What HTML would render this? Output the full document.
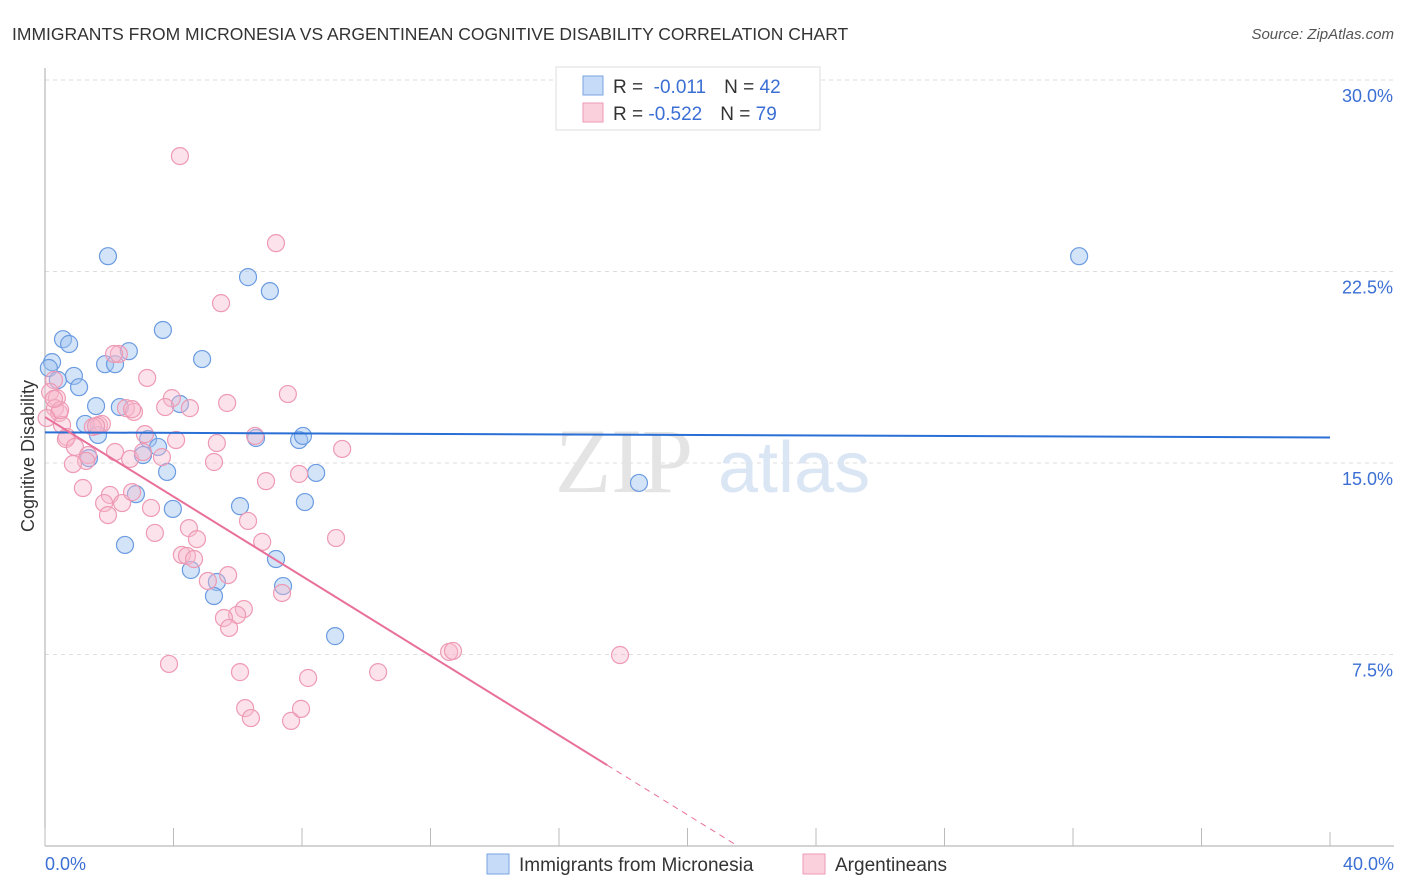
<!DOCTYPE html>
<html><head><meta charset="utf-8"><style>
body{margin:0;background:#fff;font-family:"Liberation Sans",sans-serif;}
svg{display:block}
</style></head><body>
<svg id="chart" width="1406" height="892">
<text x="12" y="40" font-size="17.5" fill="#333">IMMIGRANTS FROM MICRONESIA VS ARGENTINEAN COGNITIVE DISABILITY CORRELATION CHART</text>
<text x="1394" y="39" font-size="15" fill="#555" font-style="italic" text-anchor="end">Source: ZipAtlas.com</text>
<g id="grid"></g>
<g id="axes"></g>
<text x="555" y="492" font-size="92" fill="#e4e4e4" font-family="Liberation Serif,serif">ZIP</text>
<text x="718" y="492" font-size="72" fill="#dbe6f5">atlas</text>
<g id="pts"></g>
<g id="lines"></g>
<text transform="translate(34,456) rotate(-90)" font-size="18" fill="#333" text-anchor="middle">Cognitive Disability</text>
<text x="45" y="870" font-size="18" fill="#3b6fd4">0.0%</text>
<text x="1394" y="870" font-size="18" fill="#3b6fd4" text-anchor="end">40.0%</text>
<g>
<rect x="556" y="67" width="264" height="63" fill="#fff" stroke="#ddd"/>
<rect x="583" y="76" width="20" height="19" fill="#c5dbf7" stroke="#7aa3e0"/>
<rect x="583" y="103" width="20" height="19" fill="#fbd0dd" stroke="#ee9ab4"/>
<text x="613" y="93" font-size="19" fill="#333">R = <tspan fill="#3b6fd4">&#160;-0.011</tspan><tspan dx="18">N = </tspan><tspan fill="#3b6fd4">42</tspan></text>
<text x="613" y="120" font-size="19" fill="#333">R = <tspan fill="#3b6fd4">-0.522</tspan><tspan dx="18">N = </tspan><tspan fill="#3b6fd4">79</tspan></text>
</g>
<g>
<rect x="487" y="854" width="22" height="20" fill="#c5dbf7" stroke="#7aa3e0"/>
<text x="519" y="871" font-size="19" fill="#333">Immigrants from Micronesia</text>
<rect x="803" y="854" width="22" height="20" fill="#fbd0dd" stroke="#ee9ab4"/>
<text x="835" y="871" font-size="19" fill="#333">Argentineans</text>
</g>
</svg>
<script>
const blueX=[1.96,6.32,7.00,32.19,0.56,0.75,3.67,0.22,0.12,1.87,2.18,2.61,4.89,0.90,1.06,0.40,1.59,2.33,4.20,1.25,1.65,3.21,3.52,3.05,1.37,3.80,6.57,7.91,8.03,8.44,18.49,2.83,8.09,6.07,3.98,2.49,7.19,4.54,5.35,7.41,5.26,9.03];
const blueY=[23.10,22.28,21.73,23.10,19.85,19.66,20.21,18.95,18.72,18.87,18.87,19.38,19.07,18.41,17.97,18.25,17.23,17.19,17.31,16.53,16.10,15.94,15.63,15.31,15.19,14.65,15.98,15.90,16.06,14.61,14.22,13.78,13.47,13.31,13.20,11.79,11.24,10.81,10.34,10.18,9.79,8.22];
const pinkX=[4.20,7.19,5.48,2.30,3.18,7.56,5.67,3.95,4.51,3.74,2.52,2.77,0.28,0.16,0.37,0.31,0.44,0.53,0.68,0.65,1.68,1.77,1.49,3.11,4.08,5.35,6.54,9.25,0.93,1.34,1.28,0.87,2.18,2.65,3.64,5.26,7.91,6.88,1.18,2.02,1.84,2.40,1.96,3.30,3.42,4.48,4.73,6.32,6.76,9.06,4.26,4.42,4.64,5.07,5.70,6.19,5.98,7.38,5.57,5.73,3.86,6.07,8.19,10.37,12.58,12.70,17.90,6.23,6.41,7.66,7.97,2.71,2.15,2.71,0.47,1.59,3.05,0.28,0.05];
const pinkY=[27.02,23.61,21.26,19.27,18.33,17.70,17.35,17.54,17.15,17.19,17.15,17.00,18.25,17.78,17.54,17.15,16.96,16.49,16.02,15.94,16.49,16.53,16.41,16.13,15.90,15.78,16.06,15.55,15.63,15.31,15.08,14.96,15.43,15.16,15.23,15.04,14.57,14.29,14.02,13.75,13.43,13.43,12.96,13.24,12.26,12.45,12.02,12.73,11.91,12.06,11.40,11.36,11.24,10.38,10.61,9.28,9.05,9.91,8.93,8.54,7.13,6.81,6.58,6.81,7.60,7.64,7.48,5.40,5.01,4.90,5.37,13.86,19.27,17.11,17.07,16.45,15.43,17.51,16.76];
const yTicks=[7.5,15,22.5,30];
const yTickLabels=["7.5%","15.0%","22.5%","30.0%"];
const xTicks=[0,4,8,12,16,20,24,28,32,36,40];
const blueTrend=[16.2,16.0];
const pinkTrend=[16.8,-0.779];
const pinkSolidEnd=17.5;
const NS="http://www.w3.org/2000/svg";
const sx=v=>45+v/40*1285, sy=v=>846-v/30*766;
function mk(tag,attrs,parent){const e=document.createElementNS(NS,tag);for(const k in attrs)e.setAttribute(k,attrs[k]);parent.appendChild(e);return e;}
const grid=document.getElementById('grid'),axes=document.getElementById('axes'),pts=document.getElementById('pts'),lines=document.getElementById('lines');
yTicks.forEach((t,i)=>{
 const l=mk('line',{x1:45,x2:1394,y1:sy(t),y2:sy(t),stroke:'#ddd','stroke-dasharray':'4,4'},grid);
 
 
 const tx=mk('text',{x:1393,y:sy(t)+22,'font-size':18,fill:'#3b6fd4','text-anchor':'end'},grid);
 tx.textContent=yTickLabels[i];
 
 
});
let a=mk('line',{x1:45,x2:45,y1:68,y2:846,stroke:'#aaa'},axes);


a=mk('line',{x1:45,x2:1394,y1:846,y2:846,stroke:'#aaa'},axes);


xTicks.forEach(t=>{
 const l=mk('line',{x1:sx(t),x2:sx(t),y1:t==40?832:828,y2:846,stroke:'#bbb'},axes);
 
 
});
blueX.forEach((x,i)=>{
 const c=mk('circle',{cx:sx(x),cy:sy(blueY[i]),r:8.5,fill:'rgba(160,195,240,0.45)',stroke:'#6b9be0','stroke-width':1.2},pts);
 
 
});
pinkX.forEach((x,i)=>{
 const c=mk('circle',{cx:sx(x),cy:sy(pinkY[i]),r:8.5,fill:'rgba(248,185,205,0.4)',stroke:'#ee9ab4','stroke-width':1.2},pts);
 
 
});
let t=mk('line',{x1:sx(0),y1:sy(blueTrend[0]),x2:sx(40),y2:sy(blueTrend[1]),stroke:'#2a6fd6','stroke-width':2},lines);


const pf=x=>pinkTrend[0]+pinkTrend[1]*x;
const zeroX=-pinkTrend[0]/pinkTrend[1];
t=mk('line',{x1:sx(0),y1:sy(pf(0)),x2:sx(pinkSolidEnd),y2:sy(pf(pinkSolidEnd)),stroke:'#e8709a','stroke-width':2},lines);


t=mk('line',{x1:sx(pinkSolidEnd),y1:sy(pf(pinkSolidEnd)),x2:sx(zeroX),y2:sy(0),stroke:'#e8709a','stroke-width':1,'stroke-dasharray':'6,5'},lines);


</script>
</body></html>
